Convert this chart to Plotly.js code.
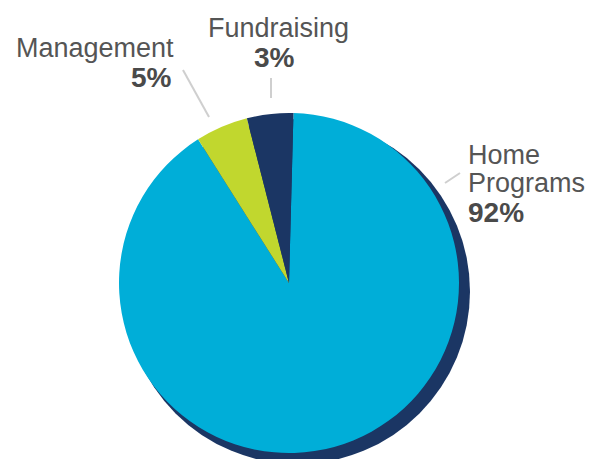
<!DOCTYPE html>
<html>
<head>
<meta charset="utf-8">
<script src="https://cdn.plot.ly/plotly-3.0.1.min.js"></script>
<style>html,body{margin:0;padding:0;background:#fff;}#chart{width:603px;height:459px;}</style>
</head>
<body>
<div id="chart"></div>
<script>
// Data
var categories = ["Home Programs", "Management", "Fundraising"];
var sliceValues = [90.6, 5.0, 4.4];          // slice shares as drawn
var pctLabels = ["92%", "5%", "3%"];          // printed percentages
var sliceColors = ["#00AED8", "#C1D72E", "#1B3664"];

var W = 603, H = 459;
function px(x) { return x / W; }
function py(y) { return 1 - y / H; }

var nameFont = {family: "Liberation Sans, Arial, sans-serif", size: 27, color: "#555555"};
var pctFont = {family: "Liberation Sans, Arial, sans-serif", size: 28, color: "#4a4a4a", weight: "bold"};

function ann(text, x, y, xanchor, font) {
  return {text: text, x: px(x), y: py(y), xref: "paper", yref: "paper",
          xanchor: xanchor, yanchor: "middle", showarrow: false, font: font, borderpad: 0};
}

var annotations = [
  ann(categories[1], 175, 48, "right", nameFont),
  ann("<b>" + pctLabels[1] + "</b>", 173, 77, "right", pctFont),
  ann(categories[2], 278.5, 28, "center", nameFont),
  ann("<b>" + pctLabels[2] + "</b>", 274.5, 57.5, "center", pctFont),
  ann("Home", 467, 155, "left", nameFont),
  ann("Programs", 467, 183, "left", nameFont),
  ann("<b>" + pctLabels[0] + "</b>", 467, 212, "left", pctFont)
];

function seg(x0, y0, x1, y1) {
  return {type: "line", xref: "paper", yref: "paper", x0: px(x0), y0: py(y0), x1: px(x1), y1: py(y1),
          line: {color: "#cfcfcf", width: 2}, layer: "above"};
}

var shapes = [
  {type: "circle", xref: "paper", yref: "paper", layer: "below",
   x0: px(125), x1: px(470), y0: py(464), y1: py(119),
   fillcolor: "#1B3664", line: {width: 0}},
  seg(183, 70, 209, 117),
  seg(271, 78, 271, 98),
  seg(445, 183, 460, 173)
];

var trace = {
  type: "pie",
  labels: categories,
  values: sliceValues,
  marker: {colors: sliceColors, line: {width: 0}},
  sort: false,
  direction: "clockwise",
  rotation: 1.5,
  textinfo: "none",
  hoverinfo: "label",
  showlegend: false,
  domain: {x: [px(119), px(459)], y: [py(453), py(113)]}
};

var layout = {
  width: W, height: H,
  margin: {l: 0, r: 0, t: 0, b: 0},
  paper_bgcolor: "#ffffff",
  showlegend: false,
  annotations: annotations,
  shapes: shapes
};

Plotly.newPlot("chart", [trace], layout, {displayModeBar: false, staticPlot: true});
</script>
</body>
</html>
